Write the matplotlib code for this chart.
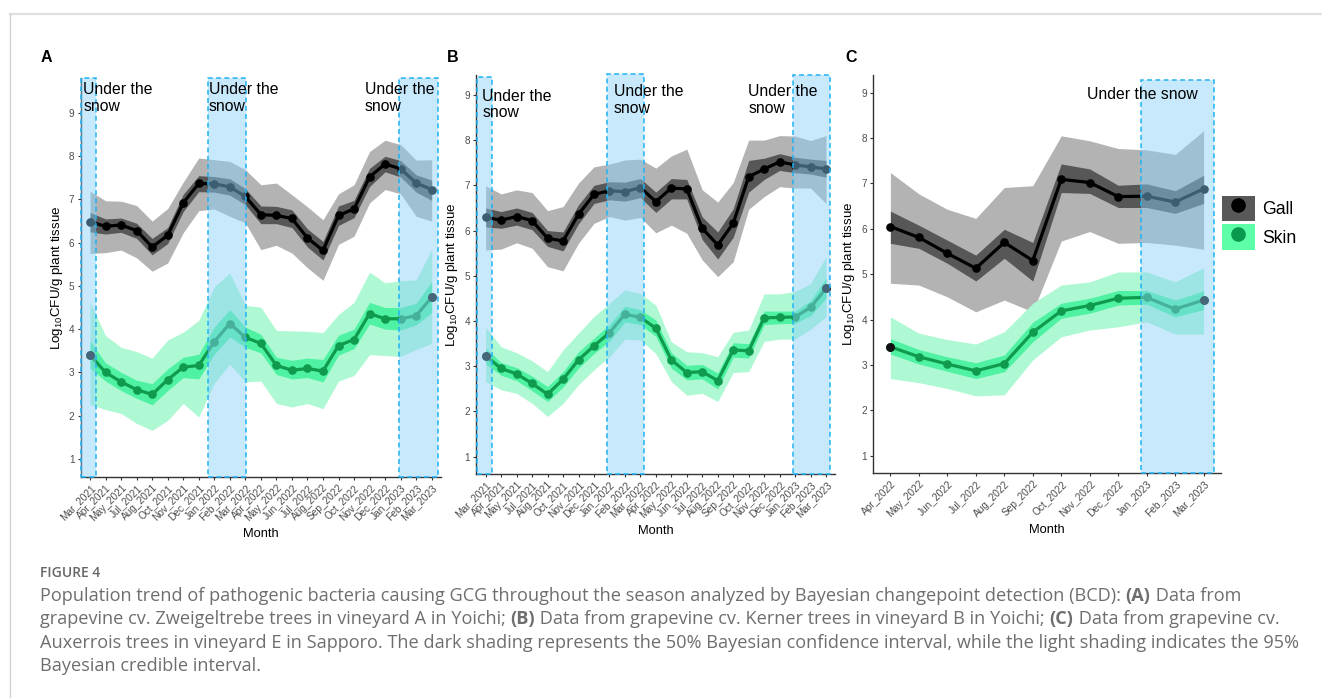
import numpy as np
import matplotlib
matplotlib.use("Agg")
import matplotlib.pyplot as plt
from matplotlib.patches import Rectangle, Patch
from matplotlib.lines import Line2D

plt.rcParams['font.family'] = ['Liberation Sans', 'DejaVu Sans']
plt.rcParams['mathtext.default'] = 'regular'

W, H = 1322, 698

# ---- data ----
months_ab = ['Mar_2021', 'Apr_2021', 'May_2021', 'Jul_2021', 'Aug_2021', 'Oct_2021',
             'Nov_2021', 'Dec_2021', 'Jan_2022', 'Feb_2022', 'Mar_2022', 'Apr_2022',
             'May_2022', 'Jun_2022', 'Jul_2022', 'Aug_2022', 'Sep_2022', 'Oct_2022',
             'Nov_2022', 'Dec_2022', 'Jan_2023', 'Feb_2023', 'Mar_2023']
months_c = ['Apr_2022', 'May_2022', 'Jun_2022', 'Jul_2022', 'Aug_2022', 'Sep_2022',
            'Oct_2022', 'Nov_2022', 'Dec_2022', 'Jan_2023', 'Feb_2023', 'Mar_2023']

# panel A
a_gall = [6.48, 6.38, 6.41, 6.28, 5.90, 6.17, 6.92, 7.37, 7.36, 7.29, 7.07, 6.65,
          6.63, 6.56, 6.11, 5.82, 6.63, 6.78, 7.52, 7.82, 7.71, 7.38, 7.23]
a_gall_hi95 = [7.19, 6.97, 6.96, 6.86, 6.50, 6.79, 7.40, 7.96, 7.92, 7.88, 7.69, 7.34,
               7.38, 7.11, 6.83, 6.53, 7.13, 7.34, 8.11, 8.37, 8.27, 7.91, 7.92]
a_gall_lo95 = [5.75, 5.77, 5.83, 5.65, 5.34, 5.53, 6.23, 6.74, 6.78, 6.61, 6.46, 5.84,
               5.94, 5.76, 5.42, 5.13, 5.96, 6.15, 6.92, 7.23, 7.13, 6.61, 6.50]
a_gall_hi50 = [6.70, 6.55, 6.57, 6.45, 6.10, 6.35, 7.12, 7.55, 7.53, 7.48, 7.25, 6.85,
               6.84, 6.76, 6.32, 6.03, 6.85, 6.98, 7.72, 8.00, 7.90, 7.57, 7.45]
a_gall_lo50 = [6.25, 6.20, 6.24, 6.10, 5.72, 5.98, 6.72, 7.18, 7.17, 7.10, 6.88, 6.44,
               6.44, 6.35, 5.90, 5.60, 6.40, 6.58, 7.30, 7.64, 7.52, 7.17, 6.98]
a_skin = [3.40, 3.00, 2.78, 2.60, 2.49, 2.83, 3.12, 3.16, 3.71, 4.13, 3.81, 3.67,
          3.16, 3.05, 3.09, 3.03, 3.62, 3.76, 4.36, 4.24, 4.24, 4.31, 4.74]
a_skin_hi95 = [4.62, 3.85, 3.58, 3.48, 3.33, 3.75, 3.93, 4.20, 4.98, 5.30, 4.55, 4.51,
               3.97, 3.96, 3.95, 3.92, 4.34, 4.62, 5.32, 5.07, 5.12, 5.14, 5.85]
a_skin_lo95 = [2.26, 2.14, 2.05, 1.82, 1.66, 1.89, 2.28, 1.97, 2.75, 3.19, 2.78, 2.80,
               2.28, 2.20, 2.28, 2.16, 2.80, 2.93, 3.41, 3.39, 3.37, 3.53, 3.67]
a_skin_hi50 = [3.72, 3.22, 3.00, 2.82, 2.74, 3.08, 3.35, 3.42, 4.05, 4.45, 4.05, 3.88,
               3.35, 3.28, 3.33, 3.30, 3.86, 4.00, 4.62, 4.50, 4.50, 4.60, 5.10]
a_skin_lo50 = [3.10, 2.80, 2.58, 2.40, 2.25, 2.58, 2.88, 2.85, 3.42, 3.82, 3.58, 3.45,
               2.95, 2.85, 2.88, 2.78, 3.40, 3.55, 4.12, 4.00, 3.98, 4.10, 4.38]

# panel B
b_gall = [6.29, 6.23, 6.31, 6.22, 5.83, 5.77, 6.36, 6.80, 6.88, 6.86, 6.95, 6.64,
          6.94, 6.92, 6.05, 5.68, 6.16, 7.19, 7.36, 7.52, 7.45, 7.41, 7.36]
b_gall_hi95 = [6.99, 6.81, 6.90, 6.84, 6.44, 6.53, 7.05, 7.41, 7.47, 7.56, 7.58, 7.38,
               7.65, 7.80, 6.90, 6.63, 7.06, 8.00, 8.00, 8.10, 8.09, 7.99, 8.10]
b_gall_lo95 = [5.57, 5.59, 5.73, 5.61, 5.20, 5.11, 5.72, 6.16, 6.31, 6.23, 6.29, 5.95,
               6.12, 5.94, 5.35, 4.98, 5.31, 6.47, 6.75, 6.97, 6.94, 6.94, 6.60]
b_gall_hi50 = [6.50, 6.42, 6.50, 6.40, 6.00, 5.97, 6.57, 7.00, 7.08, 7.07, 7.15, 6.85,
               7.15, 7.13, 6.30, 5.97, 6.48, 7.55, 7.60, 7.70, 7.62, 7.58, 7.55]
b_gall_lo50 = [6.08, 6.05, 6.12, 6.02, 5.65, 5.55, 6.15, 6.60, 6.68, 6.65, 6.73, 6.40,
               6.70, 6.70, 5.80, 5.37, 5.85, 6.85, 7.13, 7.33, 7.28, 7.25, 7.18]
b_skin = [3.23, 2.95, 2.83, 2.62, 2.38, 2.71, 3.14, 3.45, 3.74, 4.15, 4.08, 3.84,
          3.14, 2.86, 2.88, 2.68, 3.36, 3.34, 4.07, 4.08, 4.09, 4.30, 4.72]
b_skin_hi95 = [3.86, 3.43, 3.30, 3.12, 2.88, 3.36, 3.73, 4.10, 4.39, 4.69, 4.61, 4.35,
               3.54, 3.32, 3.30, 3.21, 3.75, 3.80, 4.60, 4.60, 4.65, 4.83, 5.42]
b_skin_lo95 = [2.66, 2.48, 2.40, 2.18, 1.89, 2.18, 2.59, 2.92, 3.21, 3.60, 3.58, 3.28,
               2.66, 2.36, 2.40, 2.22, 2.86, 2.88, 3.55, 3.60, 3.60, 3.82, 4.10]
b_skin_hi50 = [3.40, 3.08, 2.97, 2.78, 2.55, 2.88, 3.32, 3.62, 3.92, 4.33, 4.25, 4.02,
               3.30, 3.02, 3.04, 2.85, 3.52, 3.50, 4.22, 4.22, 4.22, 4.45, 4.95]
b_skin_lo50 = [3.05, 2.80, 2.68, 2.46, 2.22, 2.54, 2.96, 3.28, 3.56, 3.98, 3.92, 3.66,
               2.96, 2.70, 2.72, 2.50, 3.20, 3.18, 3.92, 3.94, 3.95, 4.12, 4.50]

# panel C
c_gall = [6.05, 5.81, 5.46, 5.13, 5.70, 5.30, 7.09, 7.02, 6.71, 6.72, 6.59, 6.88]
c_gall_hi95 = [7.24, 6.77, 6.43, 6.23, 6.91, 6.95, 8.05, 7.94, 7.77, 7.74, 7.64, 8.16]
c_gall_lo95 = [4.80, 4.76, 4.50, 4.17, 4.43, 4.17, 5.73, 5.94, 5.68, 5.70, 5.64, 5.55]
c_gall_hi50 = [6.39, 6.08, 5.75, 5.42, 5.99, 5.70, 7.43, 7.32, 6.96, 6.99, 6.84, 7.18]
c_gall_lo50 = [5.68, 5.57, 5.24, 4.85, 5.35, 4.85, 6.80, 6.78, 6.47, 6.47, 6.34, 6.56]
c_skin = [3.40, 3.18, 3.02, 2.87, 3.03, 3.72, 4.19, 4.31, 4.47, 4.49, 4.23, 4.43]
c_skin_hi95 = [4.06, 3.70, 3.56, 3.46, 3.73, 4.36, 4.76, 4.83, 5.05, 5.05, 4.83, 5.14]
c_skin_lo95 = [2.70, 2.61, 2.48, 2.32, 2.34, 3.11, 3.62, 3.77, 3.84, 3.95, 3.68, 3.68]
c_skin_hi50 = [3.58, 3.34, 3.18, 3.05, 3.22, 3.94, 4.36, 4.47, 4.64, 4.64, 4.43, 4.63]
c_skin_lo50 = [3.24, 3.02, 2.86, 2.70, 2.85, 3.51, 4.03, 4.14, 4.32, 4.34, 4.06, 4.22]

# snow periods (category index units, start/end)
snow_a = [(0.42, 1.37), (8.62, 11.03), (20.87, 23.38)]
snow_b = [(0.46, 1.39), (8.82, 11.26), (20.85, 23.26)]
snow_c = [(9.80, 12.35)]

# ---- styles ----
GRAY95, GRAY50 = '#b3b3b3', '#575757'
GREEN95, GREEN50 = '#aef9d3', '#4ff2a2'
GREEN_LINE = '#0f9a4e'
SNOW_FILL, SNOW_EDGE = '#87cefa', '#1fb4f2'
TICK_COL = '#4d4d4d'

fig = plt.figure(figsize=(W / 100, H / 100), dpi=100)


def px_axes(x0, y0, x1, y1):
    return fig.add_axes([x0 / W, 1 - y1 / H, (x1 - x0) / W, (y1 - y0) / H])


def draw_panel(ax, months, gall, g95, g50, skin, s95, s50, snow, ylim, snow_top):
    x = np.arange(1, len(months) + 1)
    ax.fill_between(x, g95[0], g95[1], color=GRAY95, lw=0, zorder=1)
    ax.fill_between(x, g50[0], g50[1], color=GRAY50, lw=0, zorder=2)
    ax.fill_between(x, s95[0], s95[1], color=GREEN95, lw=0, zorder=3)
    ax.fill_between(x, s50[0], s50[1], color=GREEN50, lw=0, zorder=4)
    ax.plot(x, gall, color='black', lw=2.3, marker='o', ms=5.2, zorder=5)
    ax.plot(x, skin, color=GREEN_LINE, lw=2.3, marker='o', ms=5.2, zorder=5)
    # end points drawn dark
    ax.plot([x[0], x[-1]], [skin[0], skin[-1]], 'o', color='#111111', ms=5.4, zorder=6)
    for (s, e), top in zip(snow, snow_top):
        ax.add_patch(Rectangle((s, ylim[0]), e - s, top - ylim[0], facecolor=SNOW_FILL,
                               alpha=0.45, lw=0, zorder=7, clip_on=False))
        ax.add_patch(Rectangle((s, ylim[0]), e - s, top - ylim[0], fill=False,
                               edgecolor=SNOW_EDGE, lw=1.1, ls=(0, (3.2, 2.2)),
                               zorder=8, clip_on=False))
    ax.set_xlim(0.4, len(months) + 0.6)
    ax.set_ylim(*ylim)
    ax.set_xticks(x)
    ax.set_xticklabels(months, rotation=45, ha='right', rotation_mode='anchor',
                       fontsize=7.3, color=TICK_COL)
    ax.set_yticks(range(1, 10))
    ax.tick_params(axis='y', labelsize=7.2, labelcolor=TICK_COL, length=2.5,
                   width=0.8, color='#333333', pad=2)
    ax.tick_params(axis='x', length=2.5, width=0.8, color='#333333', pad=1.5)
    for sp in ['top', 'right']:
        ax.spines[sp].set_visible(False)
    for sp in ['left', 'bottom']:
        ax.spines[sp].set_color('#333333')
        ax.spines[sp].set_linewidth(1.0)
    ax.set_xlabel('Month', fontsize=9.3, labelpad=3.5)
    ax.set_ylabel(r'Log$_{10}$CFU/g plant tissue', fontsize=9.6, labelpad=3)
    ax.patch.set_alpha(0)


ax_a = px_axes(80.7, 78, 441, 477)
draw_panel(ax_a, months_ab, a_gall, (a_gall_lo95, a_gall_hi95), (a_gall_lo50, a_gall_hi50),
           a_skin, (a_skin_lo95, a_skin_hi95), (a_skin_lo50, a_skin_hi50),
           snow_a, (0.58, 9.81), [9.81, 9.81, 9.81])
for xt in [0.57, 8.66, 18.7]:
    ax_a.text(xt, 9.72, 'Under the\nsnow', fontsize=11.3, va='top', ha='left',
              linespacing=1.15, zorder=9, clip_on=False)

ax_b = px_axes(476.4, 75, 835.3, 474)
draw_panel(ax_b, months_ab, b_gall, (b_gall_lo95, b_gall_hi95), (b_gall_lo50, b_gall_hi50),
           b_skin, (b_skin_lo95, b_skin_hi95), (b_skin_lo50, b_skin_hi50),
           snow_b, (0.617, 9.44), [9.40, 9.46, 9.44])
for xt, yt in [(0.78, 9.14), (9.29, 9.24), (17.98, 9.23)]:
    ax_b.text(xt, yt, 'Under the\nsnow', fontsize=11.3, va='top', ha='left',
              linespacing=1.15, zorder=9, clip_on=False)

ax_c = px_axes(873.3, 75, 1220.7, 473.3)
draw_panel(ax_c, months_c, c_gall, (c_gall_lo95, c_gall_hi95), (c_gall_lo50, c_gall_hi50),
           c_skin, (c_skin_lo95, c_skin_hi95), (c_skin_lo50, c_skin_hi50),
           snow_c, (0.612, 9.39), [9.28])
ax_c.text(9.86, 9.12, 'Under the snow', fontsize=11.3, va='top', ha='center',
          zorder=9, clip_on=False)

# legend
handles = [(Patch(facecolor='#585858', lw=0),
            Line2D([], [], marker='o', ls='none', color='black', ms=9.5)),
           (Patch(facecolor='#5cffa8', lw=0),
            Line2D([], [], marker='o', ls='none', color='#0a9a4f', ms=9.5))]
fig.legend(handles, ['Gall', 'Skin'], loc='upper left',
           bbox_to_anchor=(1221.7 / W, 1 - 195.7 / H), frameon=False,
           fontsize=12.7, handlelength=1.87, handleheight=1.87, borderpad=0,
           borderaxespad=0, labelspacing=0.17, handletextpad=0.45)

# panel letters
for lx, lab in [(41, 'A'), (447, 'B'), (845, 'C')]:
    fig.text(lx / W, 1 - 58 / H, lab, fontsize=11.5, weight='bold', va='center')

# frame lines of the figure card
fig.add_artist(Line2D([10 / W, 1], [1 - 14 / H, 1 - 14 / H], color='#e0e0e0', lw=1.6))
fig.add_artist(Line2D([10 / W, 10 / W], [0, 1 - 14 / H], color='#cfcfcf', lw=0.9))

# caption
CAP = '#6e6e6e'
fig.text(40 / W, 1 - 573 / H, 'FIGURE 4', fontsize=10, color='#666666', weight='semibold',
         family=['Open Sans', 'DejaVu Sans'], va='center')

cap_lines = [
    [("Population trend of pathogenic bacteria causing GCG throughout the season analyzed by Bayesian changepoint detection (BCD): ", 'normal'),
     ("(A)", 'bold'), (" Data from", 'normal')],
    [("grapevine cv. Zweigeltrebe trees in vineyard A in Yoichi; ", 'normal'), ("(B)", 'bold'),
     (" Data from grapevine cv. Kerner trees in vineyard B in Yoichi; ", 'normal'), ("(C)", 'bold'),
     (" Data from grapevine cv.", 'normal')],
    [("Auxerrois trees in vineyard E in Sapporo. The dark shading represents the 50% Bayesian confidence interval, while the light shading indicates the 95%", 'normal')],
    [("Bayesian credible interval.", 'normal')],
]
renderer = fig.canvas.get_renderer()
for i, runs in enumerate(cap_lines):
    xp = 40
    yp = 596 + i * 23.3
    for txt, wt in runs:
        t = fig.text(xp / W, 1 - yp / H, txt, fontsize=13.05, color=CAP, weight=wt,
                     family=['Open Sans', 'DejaVu Sans'], va='center')
        xp += t.get_window_extent(renderer).width

fig.savefig('out.png', dpi=100)
